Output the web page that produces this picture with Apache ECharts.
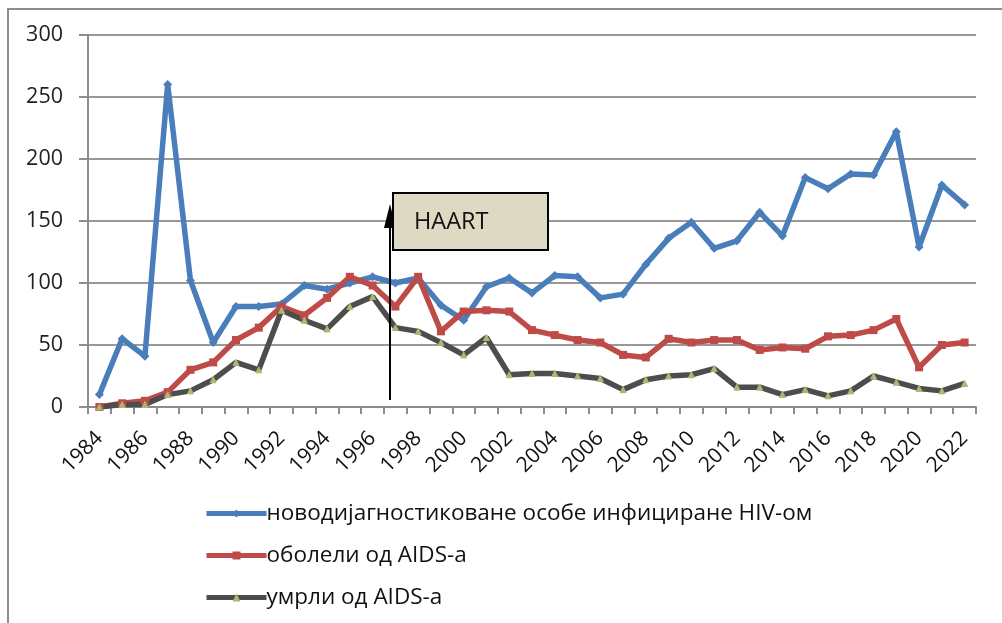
<!DOCTYPE html>
<html>
<head>
<meta charset="utf-8">
<script src="https://cdn.jsdelivr.net/npm/echarts@6/dist/echarts.min.js"></script>
<style>
html,body{margin:0;padding:0;background:#fff;}
#chart{width:1002px;height:623px;}
</style>
</head>
<body>
<div id="chart"></div>
<script>
const years = [];
for (let y = 1984; y <= 2022; y++) years.push(String(y));

const seriesNames = [
  'новодијагностиковане особе инфициране HIV-ом',
  'оболели од AIDS-а',
  'умрли од AIDS-а'
];

const hivNew = [10, 55, 41, 260, 102, 52, 81, 81, 83, 98, 95, 100, 105, 100,
  104, 82, 70, 97, 104, 92, 106, 105, 88, 91, 115, 136, 149, 128, 134, 157,
  138, 185, 176, 188, 187, 222, 129, 179, 163];

const aidsCases = [0, 3, 5, 12, 30, 36, 54, 64, 81, 74, 88, 105, 98, 81,
  105, 61, 77, 78, 77, 62, 58, 54, 52, 42, 40, 55, 52, 54, 54, 46,
  48, 47, 57, 58, 62, 71, 32, 50, 52];

const aidsDeaths = [0, 2, 2, 10, 13, 22, 36, 30, 78, 70, 63, 81, 89, 64,
  61, 52, 42, 56, 26, 27, 27, 25, 23, 14, 22, 25, 26, 31, 16, 16,
  10, 14, 9, 13, 25, 20, 15, 13, 19];

const annotationText = 'HAART';

const FONT = '"Open Sans", sans-serif';
const chart = echarts.init(document.getElementById('chart'), null, {renderer: 'canvas'});

chart.setOption({
  animation: false,
  backgroundColor: '#fff',
  grid: {left: 88, right: 26, top: 35, bottom: 216, containLabel: false},
  legend: {
    orient: 'vertical',
    left: 199,
    top: 497,
    itemGap: 19,
    itemWidth: 60,
    itemHeight: 10,
    lineStyle: {width: 5},
    textStyle: {fontFamily: FONT, fontSize: 22.5, color: '#111', padding: [0, 0, 0, -5]},
    data: seriesNames.map(n => ({name: n}))
  },
  xAxis: {
    type: 'category',
    data: years,
    boundaryGap: true,
    axisLine: {lineStyle: {color: '#8c8c8c', width: 2}},
    axisTick: {show: true, interval: 0, length: 7, lineStyle: {color: '#8c8c8c', width: 2}},
    axisLabel: {interval: 1, rotate: 45, fontFamily: FONT, fontSize: 21, color: '#111', margin: 28}
  },
  yAxis: {
    type: 'value',
    min: 0, max: 300, interval: 50,
    axisLine: {show: true, lineStyle: {color: '#8c8c8c', width: 2}},
    axisTick: {show: true, inside: false, length: 9, lineStyle: {color: '#8c8c8c', width: 2}},
    splitLine: {lineStyle: {color: '#999', width: 2}},
    axisLabel: {fontFamily: FONT, fontSize: 21.5, color: '#222', margin: 25}
  },
  series: [
    {
      name: seriesNames[0], type: 'line', data: hivNew,
      symbol: 'diamond', symbolSize: 9,
      lineStyle: {color: '#4A7EBB', width: 5.5},
      itemStyle: {color: '#4A7EBB'}
    },
    {
      name: seriesNames[1], type: 'line', data: aidsCases,
      symbol: 'rect', symbolSize: 8,
      lineStyle: {color: '#BE4B48', width: 5.5},
      itemStyle: {color: '#BE4B48'}
    },
    {
      name: seriesNames[2], type: 'line', data: aidsDeaths,
      symbol: 'triangle', symbolSize: 6,
      lineStyle: {color: '#4D4D4D', width: 5.5},
      itemStyle: {color: '#A9B873', borderColor: '#A9B873'}
    }
  ],
  graphic: [
    {type: 'rect', silent: true, shape: {x: 8, y: 9, width: 1100, height: 800},
     style: {fill: 'none', stroke: '#8c8c8c', lineWidth: 2}},
    {type: 'line', silent: true, shape: {x1: 390, y1: 400, x2: 390, y2: 222},
     style: {stroke: '#000', lineWidth: 2}, z: 9},
    {type: 'polygon', silent: true, shape: {points: [[390, 204], [384, 228], [396, 228]]},
     style: {fill: '#000'}, z: 9},
    {type: 'rect', silent: true, shape: {x: 393, y: 193, width: 155, height: 57},
     style: {fill: '#DDD9C3', stroke: '#000', lineWidth: 2}, z: 10},
    {type: 'text', silent: true, x: 414, y: 222, z: 11,
     style: {text: annotationText, fontFamily: FONT, fontSize: 23.5, fill: '#111', verticalAlign: 'middle'}}
  ]
});
</script>
</body>
</html>
